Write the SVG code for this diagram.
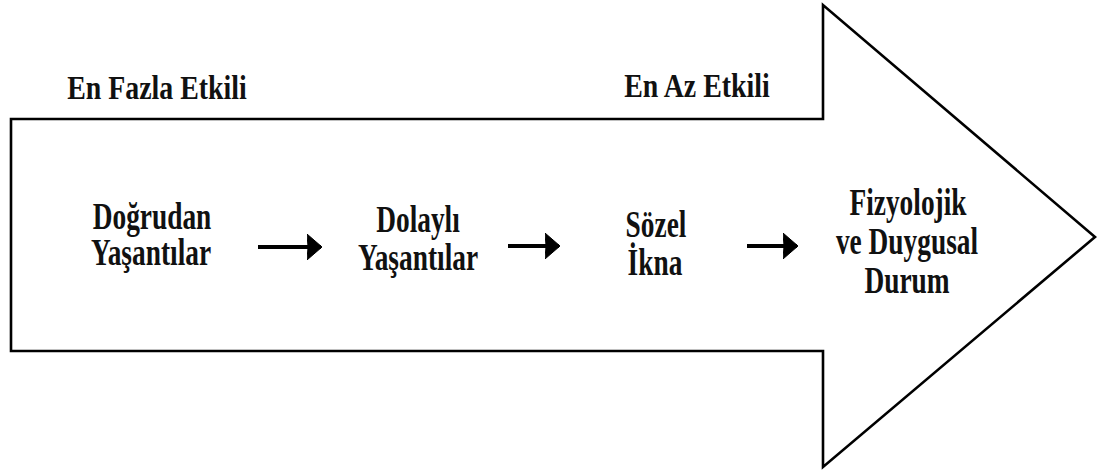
<svg xmlns="http://www.w3.org/2000/svg" width="1098" height="473" viewBox="0 0 1098 473">
<style>
.outline{fill:#fff;stroke:#000;stroke-width:2.6;stroke-linejoin:miter}
.h{font-family:'Liberation Serif','Times New Roman',serif;font-weight:700;font-size:34px;fill:#111;text-anchor:middle}
.t{font-family:'Liberation Serif','Times New Roman',serif;font-weight:700;font-size:37px;fill:#111;text-anchor:middle}
.shaft{stroke:#000;stroke-width:4;fill:none}
</style>
<defs>
<marker id="ah" viewBox="0 0 15 26" refX="14" refY="13" markerWidth="15" markerHeight="26" markerUnits="userSpaceOnUse" orient="auto">
<path d="M0,0 L15,13 L0,26 Q2,13 0,0 Z" fill="#000" stroke="#000" stroke-width="1" stroke-linejoin="round"/>
</marker>
</defs>
<rect width="1098" height="473" fill="#fff"/>
<g id="big-arrow">
<path class="outline" d="M11,119 L823,119 L823,5 L1095,237 L823,467 L823,351 L11,351 Z"/>
</g>
<g id="label-most">
<text class="h" transform="matrix(0.82 0 0 1 157 99)">En Fazla Etkili</text>
</g>
<g id="label-least">
<text class="h" transform="matrix(0.82 0 0 1 697 97)">En Az Etkili</text>
</g>
<g id="node-dogrudan">
<text class="t" transform="matrix(0.74 0 0 1 152 229)">Doğrudan</text>
<text class="t" transform="matrix(0.74 0 0 1 151 265)">Yaşantılar</text>
</g>
<g id="node-dolayli">
<text class="t" transform="matrix(0.74 0 0 1 418 232)">Dolaylı</text>
<text class="t" transform="matrix(0.74 0 0 1 418 270)">Yaşantılar</text>
</g>
<g id="node-sozel">
<text class="t" transform="matrix(0.74 0 0 1 656 237)">Sözel</text>
<text class="t" transform="matrix(0.74 0 0 1 655 275)">İkna</text>
</g>
<g id="node-fizyolojik">
<text class="t" transform="matrix(0.74 0 0 1 908 215)">Fizyolojik</text>
<text class="t" transform="matrix(0.74 0 0 1 907 254)">ve Duygusal</text>
<text class="t" transform="matrix(0.74 0 0 1 907 293)">Durum</text>
</g>
<g id="connectors">
<line class="shaft" x1="258" y1="247" x2="321" y2="247" marker-end="url(#ah)"/>
<line class="shaft" x1="508" y1="246" x2="559" y2="246" marker-end="url(#ah)"/>
<line class="shaft" x1="747" y1="246" x2="797" y2="246" marker-end="url(#ah)"/>
</g>
</svg>
